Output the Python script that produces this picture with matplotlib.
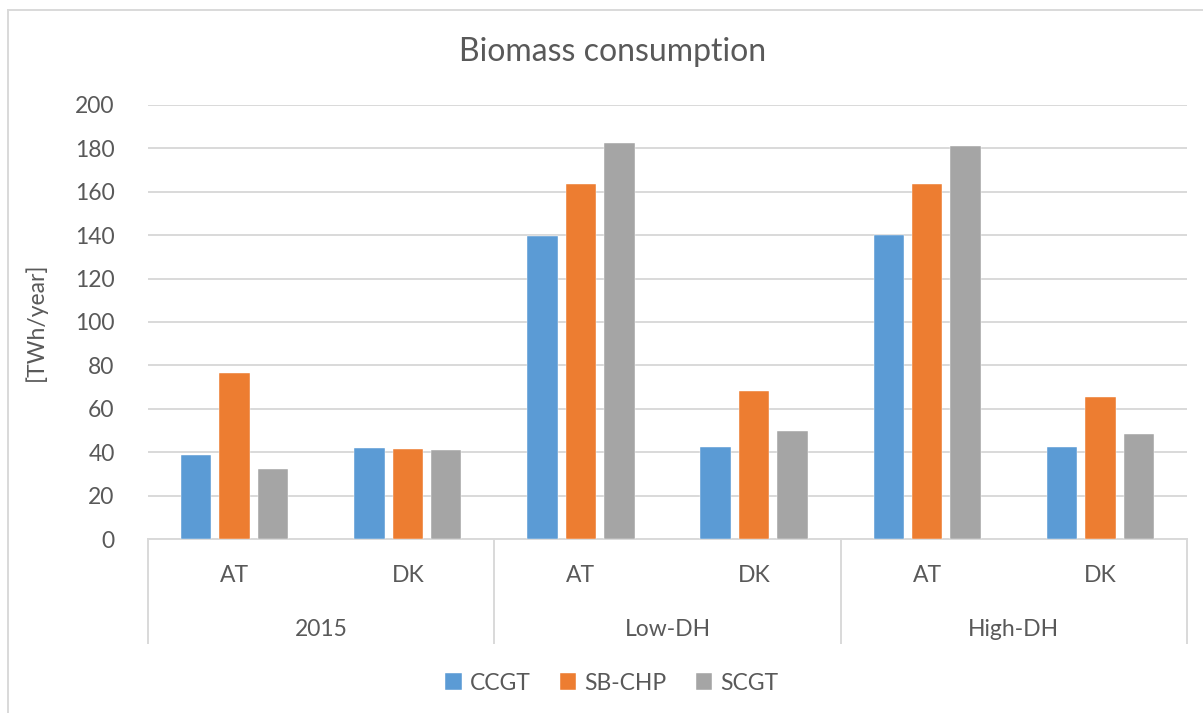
import matplotlib
matplotlib.use("Agg")
import matplotlib.pyplot as plt
from matplotlib.lines import Line2D
import matplotlib.transforms as mtransforms
import numpy as np

scenarios = ["2015", "Low-DH", "High-DH"]
countries = ["AT", "DK"]
series = ["CCGT", "SB-CHP", "SCGT"]
ccgt = [38.8, 42.0, 139.8, 42.4, 140.3, 42.4]
sbchp = [76.6, 41.7, 163.6, 68.1, 163.5, 65.3]
scgt = [32.2, 41.1, 182.4, 49.7, 181.0, 48.6]
colors = ["#5B9BD5", "#ED7D31", "#A5A5A5"]
yticks = [0, 20, 40, 60, 80, 100, 120, 140, 160, 180, 200]

plt.rcParams['font.family'] = ['Lato', 'DejaVu Sans']
txt = "#595959"
grid = "#D9D9D9"
fs = 16.5

W, H = 1203, 713
fig = plt.figure(figsize=(W / 100, H / 100), dpi=100)
ax = fig.add_axes([148 / W, 1 - 539 / H, (1187 - 148) / W, (539 - 105) / H])

n = len(ccgt)
x = np.arange(n)
bw = 0.176
off = 0.222
for i, (vals, c, lab) in enumerate(zip([ccgt, sbchp, scgt], colors, series)):
    ax.bar(x + (i - 1) * off, vals, width=bw, color=c, label=lab, zorder=3,
           edgecolor="white", linewidth=0.3)

ax.set_xlim(-0.5, n - 0.5)
ax.set_ylim(0, 200)
ax.set_yticks(yticks)
ax.set_yticklabels([str(v) for v in yticks], color=txt, fontsize=fs)
ax.tick_params(axis='y', length=0, pad=24)
ax.tick_params(axis='x', length=0)
ax.set_xticks([])
ax.grid(axis='y', color=grid, linewidth=1.4, zorder=0)
for s in ["top", "right", "left"]:
    ax.spines[s].set_visible(False)
ax.spines["bottom"].set_color(grid)
ax.spines["bottom"].set_linewidth(1.4)

ax.set_ylabel("[TWh/year]", color=txt, fontsize=fs, labelpad=20)

trans = mtransforms.blended_transform_factory(ax.transData, ax.transAxes)
sep_bottom = -(643 - 539) / (539 - 105)
for b in np.arange(-0.5, n, 2):
    ax.add_line(Line2D([b, b], [0, sep_bottom], transform=trans, color=grid,
                       linewidth=1.4, clip_on=False))
inner_y = -(576 - 539) / (539 - 105)
outer_y = -(629 - 539) / (539 - 105)
for j in range(n):
    ax.text(j, inner_y, countries[j % 2], transform=trans, ha='center', va='center',
            color=txt, fontsize=fs)
for k, sc in enumerate(scenarios):
    ax.text(2 * k + 0.5, outer_y, sc, transform=trans, ha='center', va='center',
            color=txt, fontsize=fs)

fig.text(613 / W, 1 - 52 / H, "Biomass consumption", ha='center', va='center',
         color=txt, fontsize=23)

leg = fig.legend(loc='center', bbox_to_anchor=(612 / W, 1 - 683 / H), ncol=3,
                 frameon=False, handlelength=0.7, handleheight=0.7,
                 handletextpad=0.35, columnspacing=1.3, fontsize=fs)
for t in leg.get_texts():
    t.set_color(txt)

fig.add_artist(Line2D([8 / W, 1.0], [1 - 10 / H, 1 - 10 / H], transform=fig.transFigure,
                      color=grid, linewidth=1.4))
fig.add_artist(Line2D([8 / W, 8 / W], [0, 1 - 10 / H], transform=fig.transFigure,
                      color=grid, linewidth=1.4))

fig.savefig("out.png", dpi=100, facecolor="white")
